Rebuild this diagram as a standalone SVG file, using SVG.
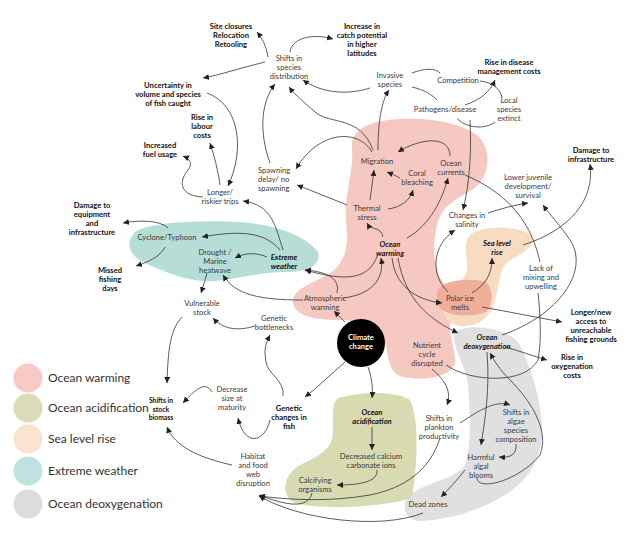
<svg xmlns="http://www.w3.org/2000/svg" width="641" height="539" viewBox="0 0 641 539">
<style>
text{font-family:Lato,"Noto Sans",sans-serif;font-size:7.6px;text-anchor:middle;fill:#3a3a3a}
.b{font-weight:bold;fill:#111}
.bi{font-weight:bold;font-style:italic;fill:#111}
.w{font-weight:bold;fill:#fff}
.lg{font-size:12px;text-anchor:start;fill:#333}
.sm{font-size:6.8px}
.c{fill:none;stroke:#333;stroke-width:0.8;marker-end:url(#a)}
.p{fill:none;stroke:#333;stroke-width:0.8}
</style>
<defs>
<marker id="a" markerUnits="userSpaceOnUse" markerWidth="7" markerHeight="7" refX="6" refY="3" orient="auto">
<path d="M0,0 L6,3 L0,6 z" fill="#222"/>
</marker>
</defs>
<rect width="641" height="539" fill="#fff"/>
<g id="blobs">
<path id="blob-warming" fill="#f6c8c2" d="M352,148 C350,130 370,120 400,119 C430,118 462,122 480,138 C492,152 490,178 472,190 C455,200 442,205 437,225 C432,245 434,262 440,278 C450,290 458,302 452,318 C446,332 456,348 455,362 C452,378 420,382 400,376 C390,372 388,358 386,345 C382,330 362,320 340,320 C315,320 292,316 293,300 C295,286 320,282 334,270 C348,258 348,240 346,220 C344,195 354,170 352,148 Z"/>
<path id="blob-sealevel" fill="#f8dcc2" d="M470,235 C480,226 520,224 532,236 C536,248 518,255 508,262 C498,270 500,285 495,300 C492,315 480,327 462,326 C448,325 440,315 445,300 C452,288 465,282 467,270 C468,258 462,245 470,235 Z"/>
<path id="blob-polar" fill="#f0ad98" d="M437,292 C440,280 470,277 486,282 C494,290 493,305 486,312 C470,318 446,317 437,305 Z"/>
<path id="blob-weather" fill="#b7ddd7" d="M135,232 C150,222 200,220 240,222 C280,225 308,238 318,252 C322,266 305,272 288,272 C262,272 240,278 215,281 C190,283 165,272 145,263 C128,255 125,242 135,232 Z"/>
<path id="blob-deox" fill="#e0e0e0" d="M455,332 C470,322 510,328 520,345 C530,365 540,395 542,425 C544,455 530,480 505,495 C480,510 450,520 420,521 C405,521 400,505 410,495 C425,482 455,480 465,465 C472,445 470,410 468,385 C466,365 450,345 455,332 Z"/>
<path id="blob-acid" fill="#d8dbb2" d="M338,398 C360,392 395,390 410,400 C420,420 417,470 412,498 C380,508 320,510 295,503 C280,495 283,475 300,465 C320,455 333,450 333,430 C333,415 332,402 338,398 Z"/>
</g>
<g id="legend">
<circle cx="28" cy="378" r="14.5" fill="#f7cac6"/>
<circle cx="28" cy="408" r="14.5" fill="#d9dcb7"/>
<circle cx="28" cy="439" r="14.5" fill="#fae3cf"/>
<circle cx="28" cy="471" r="14.5" fill="#c0e2de"/>
<circle cx="28" cy="504" r="14.5" fill="#dcdcdc"/>
<text class="lg" x="48" y="382">Ocean warming</text>
<text class="lg" x="48" y="412">Ocean acidification</text>
<text class="lg" x="48" y="443">Sea level rise</text>
<text class="lg" x="48" y="475">Extreme weather</text>
<text class="lg" x="48" y="508">Ocean deoxygenation</text>
</g>
<g id="connectors">
<path class="c" d="M268,57 C266,45 262,38 257,32"/>
<path class="c" d="M290,52 C292,38 312,33 333,39"/>
<path class="c" d="M265,62 C240,68 220,75 203,78"/>
<path class="c" d="M207,93 C240,105 245,150 228,186"/>
<path class="c" d="M220,185 C218,170 214,155 210,143"/>
<path class="c" d="M203,197 C180,196 178,182 188,170 C193,163 190,159 183,156"/>
<path class="c" d="M270,163 C258,130 262,100 275,84"/>
<path class="c" d="M373,150 C360,115 330,125 315,112 C305,103 295,95 289,87"/>
<path class="c" d="M372,152 C360,130 320,128 296,169"/>
<path class="c" d="M378,150 C378,120 382,100 389,90"/>
<path class="c" d="M370,88 C345,96 320,92 303,80"/>
<path class="p" d="M412,73 C425,68 435,68 440,73"/>
<path class="p" d="M412,87 C425,90 432,95 437,100"/>
<path class="c" d="M465,105 C480,100 490,92 495,80"/>
<path class="p" d="M480,81 C495,83 500,90 502,97"/>
<path class="p" d="M457,118 C465,128 485,130 495,122"/>
<path class="c" d="M470,120 C472,160 468,190 463,210"/>
<path class="c" d="M450,156 C450,135 420,138 398,152"/>
<path class="c" d="M400,178 C396,176 392,174 387,172"/>
<path class="c" d="M370,200 C371,190 373,180 374,170"/>
<path class="c" d="M388,209 C402,207 410,200 413,190"/>
<path class="c" d="M383,237 C380,225 372,232 367,223"/>
<path class="c" d="M407,238 C430,225 442,200 448,178"/>
<path class="p" d="M465,175 C500,190 530,215 540,262"/>
<path class="c" d="M347,205 C330,198 312,191 297,185"/>
<path class="c" d="M343,298 C370,295 385,280 381,258"/>
<path class="c" d="M378,254 C370,278 350,283 305,270"/>
<path class="c" d="M337,293 C340,280 330,272 305,270"/>
<path class="c" d="M303,300 C260,300 235,295 223,275"/>
<path class="c" d="M345,322 C341,318 338,315 334,311"/>
<path class="c" d="M283,250 C275,225 272,205 243,201"/>
<path class="c" d="M280,250 C265,232 240,230 202,237"/>
<path class="c" d="M267,257 C255,252 245,253 235,258"/>
<path class="c" d="M168,228 C160,220 140,220 123,223"/>
<path class="c" d="M165,247 C160,257 148,262 136,266"/>
<path class="c" d="M207,273 C205,280 203,287 201,293"/>
<path class="c" d="M255,326 C235,332 222,328 213,318"/>
<path class="c" d="M182,317 C170,330 168,350 167,383"/>
<path class="c" d="M212,392 C205,380 195,390 183,403"/>
<path class="c" d="M232,465 C200,458 175,447 167,427"/>
<path class="c" d="M283,396 C285,380 268,375 266,362 C264,350 265,345 270,335"/>
<path class="c" d="M270,420 C265,442 245,448 238,418"/>
<path class="c" d="M345,362 C330,375 318,387 305,397"/>
<path class="c" d="M368,367 C372,378 373,388 372,398"/>
<path class="c" d="M372,427 L372,450"/>
<path class="c" d="M377,470 C378,482 360,485 337,485"/>
<path class="c" d="M312,493 C308,510 285,505 259,495"/>
<path class="c" d="M423,513 C380,530 300,520 259,496"/>
<path class="c" d="M440,438 C430,470 405,488 370,495 C330,502 290,500 259,496"/>
<path class="c" d="M392,258 C395,285 415,300 442,303"/>
<path class="c" d="M398,258 C405,300 430,320 458,333"/>
<path class="c" d="M448,292 C430,275 432,245 455,230"/>
<path class="c" d="M472,293 C485,285 492,275 492,258"/>
<path class="c" d="M482,307 C510,312 535,317 562,322"/>
<path class="c" d="M488,213 C500,209 514,205 528,203"/>
<path class="c" d="M523,245 C570,230 595,200 590,164"/>
<path class="c" d="M502,335 C560,315 590,270 570,240 C560,225 550,215 543,205"/>
<path class="c" d="M505,347 C520,351 533,356 547,360"/>
<path class="p" d="M446,365 C470,382 525,385 538,360 C542,340 540,310 538,293"/>
<path class="c" d="M432,369 C445,380 452,392 447,405"/>
<path class="c" d="M487,352 C490,390 485,420 481,445"/>
<path class="c" d="M477,478 C478,492 520,480 540,455 C550,430 530,400 510,380 C500,370 495,362 490,353"/>
<path class="c" d="M460,423 C480,410 495,400 510,405"/>
<path class="c" d="M516,444 C517,455 510,458 499,457"/>
<path class="c" d="M465,470 C457,480 449,489 441,497"/>
</g>
<g id="n-climate"><circle cx="361" cy="343" r="24" fill="#000"/><text class="w" x="361" y="340">Climate</text><text class="w" x="361" y="349">change</text></g>
<g id="n-site"><text class="b" x="231" y="29">Site closures</text><text class="b" x="231" y="38">Relocation</text><text class="b" x="231" y="47">Retooling</text></g>
<g id="n-catch"><text class="b" x="362" y="29">Increase in</text><text class="b" x="362" y="38">catch potential</text><text class="b" x="362" y="47">in higher</text><text class="b" x="362" y="56">latitudes</text></g>
<g id="n-disease-cost"><text class="b" x="509" y="65">Rise in disease</text><text class="b" x="509" y="74">management costs</text></g>
<g id="n-infra"><text class="b" x="591" y="153">Damage to</text><text class="b" x="591" y="162">infrastructure</text></g>
<g id="n-uncert"><text class="b" x="168" y="88">Uncertainty in</text><text class="b" x="168" y="97">volume and species</text><text class="b" x="168" y="106">of fish caught</text></g>
<g id="n-labour"><text class="b" x="202" y="120">Rise in</text><text class="b" x="202" y="129">labour</text><text class="b" x="202" y="138">costs</text></g>
<g id="n-fuel"><text class="b" x="160" y="148">Increased</text><text class="b" x="160" y="157">fuel usage</text></g>
<g id="n-equip"><text class="b" x="92" y="208">Damage to</text><text class="b" x="92" y="217">equipment</text><text class="b" x="92" y="226">and</text><text class="b" x="92" y="235">infrastructure</text></g>
<g id="n-missed"><text class="b" x="110" y="273">Missed</text><text class="b" x="110" y="282">fishing</text><text class="b" x="110" y="291">days</text></g>
<g id="n-access"><text class="b" x="591" y="315">Longer/new</text><text class="b" x="591" y="324">access to</text><text class="b" x="591" y="333">unreachable</text><text class="b" x="591" y="342">fishing grounds</text></g>
<g id="n-oxcost"><text class="b" x="572" y="360">Rise in</text><text class="b" x="572" y="369">oxygenation</text><text class="b" x="572" y="378">costs</text></g>
<g id="n-genetic"><text class="b" x="289" y="411">Genetic</text><text class="b" x="289" y="420">changes in</text><text class="b" x="289" y="429">fish</text></g>
<g id="n-biomass"><text class="b sm" x="161" y="403">Shifts in</text><text class="b sm" x="161" y="411.5">stock</text><text class="b sm" x="161" y="420">biomass</text></g>
<g id="n-shifts"><text x="289" y="61">Shifts in</text><text x="289" y="70">species</text><text x="289" y="79">distribution</text></g>
<g id="n-invasive"><text x="390" y="78">Invasive</text><text x="390" y="87">species</text></g>
<g id="n-competition"><text x="458" y="83">Competition</text></g>
<g id="n-pathogens"><text x="445" y="112">Pathogens/disease</text></g>
<g id="n-local"><text x="509" y="103">Local</text><text x="509" y="112">species</text><text x="509" y="121">extinct</text></g>
<g id="n-juvenile"><text x="528" y="180">Lower juvenile</text><text x="528" y="189">development/</text><text x="528" y="198">survival</text></g>
<g id="n-migration"><text x="377" y="164">Migration</text></g>
<g id="n-currents"><text x="451" y="166">Ocean</text><text x="451" y="175">currents</text></g>
<g id="n-coral"><text x="417" y="176">Coral</text><text x="417" y="185">bleaching</text></g>
<g id="n-thermal"><text x="367" y="211">Thermal</text><text x="367" y="220">stress</text></g>
<g id="n-salinity"><text x="467" y="218">Changes in</text><text x="467" y="227">salinity</text></g>
<g id="n-spawning"><text x="258" y="173" style="text-anchor:start">Spawning</text><text x="258" y="182" style="text-anchor:start">delay/ no</text><text x="258" y="191" style="text-anchor:start">spawning</text></g>
<g id="n-trips"><text x="220" y="195">Longer/</text><text x="220" y="204">riskier trips</text></g>
<g id="n-cyclone"><text x="167" y="240">Cyclone/Typhoon</text></g>
<g id="n-drought"><text x="215" y="255">Drought /</text><text x="215" y="264">Marine</text><text x="215" y="273">heatwave</text></g>
<g id="n-vulnerable"><text x="202" y="306">Vulnerable</text><text x="202" y="315">stock</text></g>
<g id="n-atmos"><text x="325" y="301">Atmospheric</text><text x="325" y="310">warming</text></g>
<g id="n-bottle"><text x="274" y="321">Genetic</text><text x="274" y="330">bottlenecks</text></g>
<g id="n-mixing"><text x="541" y="271">Lack of</text><text x="541" y="280">mixing and</text><text x="541" y="289">upwelling</text></g>
<g id="n-polar"><text x="460" y="301">Polar ice</text><text x="460" y="310">melts</text></g>
<g id="n-nutrient"><text x="427" y="348">Nutrient</text><text x="427" y="357">cycle</text><text x="427" y="366">disrupted</text></g>
<g id="n-decrease"><text x="232" y="392">Decrease</text><text x="232" y="401">size at</text><text x="232" y="410">maturity</text></g>
<g id="n-calcium"><text x="371" y="459">Decreased calcium</text><text x="371" y="468">carbonate ions</text></g>
<g id="n-calcifying"><text x="315" y="483">Calcifying</text><text x="315" y="492">organisms</text></g>
<g id="n-habitat"><text x="253" y="459">Habitat</text><text x="253" y="468">and food</text><text x="253" y="477">web</text><text x="253" y="486">disruption</text></g>
<g id="n-plankton"><text x="439" y="421">Shifts in</text><text x="439" y="430">plankton</text><text x="439" y="439">productivity</text></g>
<g id="n-algae"><text x="516" y="415">Shifts in</text><text x="516" y="424">algae</text><text x="516" y="433">species</text><text x="516" y="442">composition</text></g>
<g id="n-hab"><text x="481" y="460">Harmful</text><text x="481" y="469">algal</text><text x="481" y="478">blooms</text></g>
<g id="n-dead"><text x="428" y="507">Dead zones</text></g>
<g id="n-warming"><text class="bi" x="390" y="247">Ocean</text><text class="bi" x="390" y="256">warming</text></g>
<g id="n-extreme"><text class="bi" x="284" y="260">Extreme</text><text class="bi" x="284" y="269">weather</text></g>
<g id="n-sealevel"><text class="bi" x="497" y="246">Sea level</text><text class="bi" x="497" y="255">rise</text></g>
<g id="n-deox"><text class="bi" x="487" y="340">Ocean</text><text class="bi" x="487" y="349">deoxygenation</text></g>
<g id="n-acid"><text class="bi" x="372" y="415">Ocean</text><text class="bi" x="372" y="424">acidification</text></g>
</svg>
